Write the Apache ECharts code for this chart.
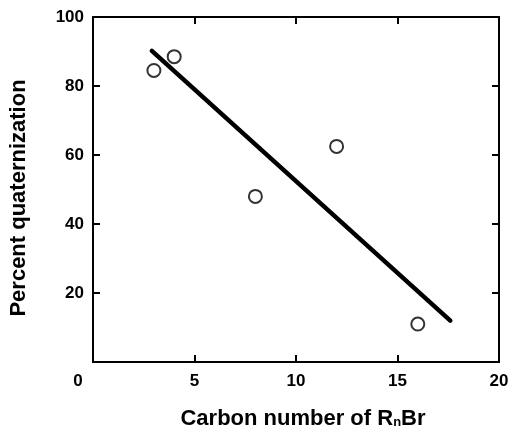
<!DOCTYPE html>
<html lang="en">

<head>
    <meta charset="utf-8">
    <title>Percent quaternization vs carbon number</title>
    <script src="https://cdn.jsdelivr.net/npm/echarts@6/dist/echarts.min.js"></script>
    <style>
        html, body { margin: 0; padding: 0; background: #fff; }
        #main { width: 509px; height: 430px; }
    </style>
</head>

<body>
    <div id="main"></div>
    <script>
        // measured points
        var carbonNumber = [3, 4, 8, 12, 16];
        var quaternization = [84.5, 88.5, 48, 62.5, 11];
        // fitted line, end points
        var fitX = [2.9, 17.6];
        var fitY = [90.2, 12];

        var font = 'Liberation Sans, Arial, Helvetica, sans-serif';
        var myChart = echarts.init(document.getElementById('main'));

        function tick() {
            return { show: true, inside: true, length: 7, lineStyle: { color: '#000', width: 2 } };
        }
        function axLine() {
            return { show: true, onZero: false, lineStyle: { color: '#000', width: 2 } };
        }
        function label(fmt) {
            return {
                color: '#000', fontFamily: font, fontWeight: 'bold', fontSize: 17,
                formatter: fmt
            };
        }

        var xLabel = label(function (v) { return v === 0 ? '{z|0}' : String(v); });
        xLabel.margin = 11;
        xLabel.rich = { z: { padding: [0, 30, 0, 0], color: '#000', fontFamily: font, fontWeight: 'bold', fontSize: 17 } };
        var yLabel = label(function (v) { return v === 0 ? '' : String(v); });
        yLabel.margin = 9;

        myChart.setOption({
            animation: false,
            grid: { left: 93, right: 10, top: 17, bottom: 68, outerBoundsMode: 'none', containLabel: false },
            xAxis: [
                {
                    type: 'value', min: 0, max: 20, interval: 5, position: 'bottom',
                    axisLine: axLine(),
                    axisTick: tick(),
                    splitLine: { show: false },
                    axisLabel: xLabel,
                    name: '{a|Carbon number of R}{s|n}{a|Br}',
                    nameLocation: 'middle',
                    nameGap: 46,
                    nameTextStyle: {
                        padding: [0, 0, 0, 14],
                        rich: {
                            a: { fontFamily: font, fontWeight: 'bold', fontSize: 22, color: '#000' },
                            s: { fontFamily: font, fontWeight: 'bold', fontSize: 13, color: '#000', padding: [7, 0, 0, 0] }
                        }
                    }
                },
                {
                    type: 'value', min: 0, max: 20, interval: 5, position: 'top',
                    axisLine: axLine(), axisTick: tick(),
                    axisLabel: { show: false }, splitLine: { show: false }
                }
            ],
            yAxis: [
                {
                    type: 'value', min: 0, max: 100, interval: 20, position: 'left',
                    axisLine: axLine(),
                    axisTick: tick(),
                    splitLine: { show: false },
                    axisLabel: yLabel,
                    name: 'Percent quaternization',
                    nameLocation: 'middle',
                    nameGap: 63,
                    nameTextStyle: {
                        fontFamily: font, fontWeight: 'bold', fontSize: 22, color: '#000',
                        padding: [0, 17, 0, 0]
                    }
                },
                {
                    type: 'value', min: 0, max: 100, interval: 20, position: 'right',
                    axisLine: axLine(), axisTick: tick(),
                    axisLabel: { show: false }, splitLine: { show: false }
                }
            ],
            series: [
                {
                    type: 'line',
                    data: fitX.map(function (x, i) { return [x, fitY[i]]; }),
                    showSymbol: false,
                    lineStyle: { color: '#000', width: 4.5, cap: 'round' },
                    z: 2
                },
                {
                    type: 'scatter',
                    data: carbonNumber.map(function (x, i) { return [x, quaternization[i]]; }),
                    symbol: 'circle',
                    symbolSize: 13,
                    itemStyle: { color: '#fff', borderColor: '#000', borderWidth: 2 },
                    z: 3
                },
                // empty series keep the top and right frame axes drawn
                { type: 'scatter', xAxisIndex: 1, yAxisIndex: 1, data: [] }
            ]
        });
        window.onresize = myChart.resize;
    </script>
</body>

</html>
